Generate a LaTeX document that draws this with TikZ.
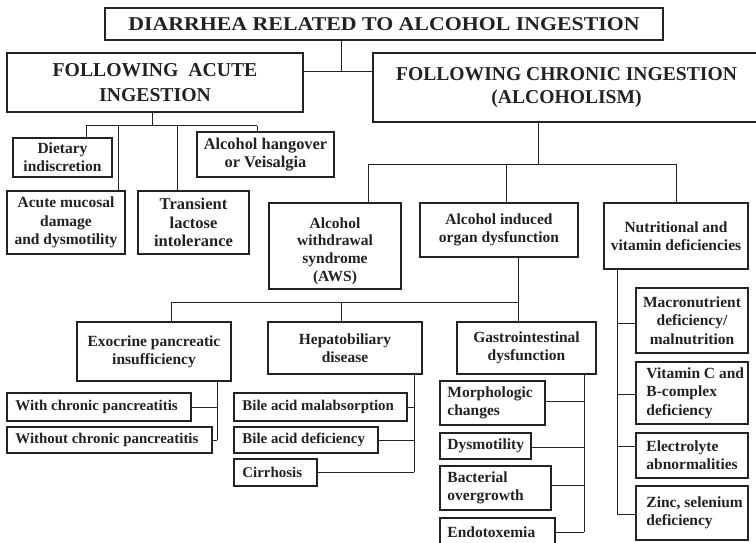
\documentclass[tikz,border=0pt]{standalone}
\usepackage{fontspec}
\setmainfont{Liberation Serif}
\newfontfamily\widefont{Liberation Serif}[FakeStretch=1.12]
\definecolor{ink}{HTML}{222222}

% centred box: [style], name, x1, y1, x2, y2, text
\newcommand\bx[7][]{%
  \pgfmathsetmacro\boxW{#5-#3}\pgfmathsetmacro\boxH{#6-#4}%
  \pgfmathsetmacro\boxX{(#3+#5)/2}\pgfmathsetmacro\boxY{(#4+#6)/2}%
  \node[box,align=center,minimum width=\boxW pt,minimum height=\boxH pt,#1] (#2) at (\boxX,\boxY) {#7};}
% left-aligned box: [style], name, x1, y1, x2, y2, text (text starts \lpad in)
\newcommand\lbx[7][]{%
  \pgfmathsetmacro\boxW{#5-#3}\pgfmathsetmacro\boxH{#6-#4}%
  \pgfmathsetmacro\boxX{(#3+#5)/2}\pgfmathsetmacro\boxY{(#4+#6)/2}%
  \node[box,minimum width=\boxW pt,minimum height=\boxH pt] (#2) at (\boxX,\boxY) {};
  \node[boxtext,anchor=west,align=left,#1] (#2-t) at ([xshift=\lpad]#2.west) {#7};}
\newcommand\lpad{9pt}

\begin{document}
\begin{tikzpicture}[x=1pt,y=-1pt,
  boxfont/.style={font=\fontsize{15.5}{18.3}\selectfont\bfseries},
  box/.style={draw=ink,line width=1.5pt,fill=white,inner sep=0pt,text=ink,boxfont},
  boxtext/.style={inner sep=0pt,text=ink,boxfont},
  conn/.style={draw=ink,line width=1pt}]
\useasboundingbox (0,0) rectangle (756,543);
\fill[white] (0,0) rectangle (756,543);
\clip (0,0) rectangle (756,543);

% ---- boxes ----
\bx[line width=1.7pt,font=\widefont\fontsize{19.5}{24}\selectfont\bfseries]{title}{105}{8}{663}{40}{DIARRHEA RELATED TO ALCOHOL INGESTION}
\bx[line width=1.7pt,font=\fontsize{19.7}{25}\selectfont\bfseries]{acute}{7}{53}{303}{112}{FOLLOWING\ \ ACUTE\\INGESTION}
\bx[line width=1.7pt,font=\fontsize{19.6}{23.5}\selectfont\bfseries]{chronic}{373}{53}{760}{122}{FOLLOWING CHRONIC INGESTION\\(ALCOHOLISM)}

\bx{dietary}{13}{138}{112}{177}{Dietary\\indiscretion}
\bx[font=\fontsize{16.4}{18.5}\selectfont\bfseries]{hangover}{197}{132}{334}{177}{Alcohol hangover\\or Veisalgia}
\bx{mucosal}{7}{191}{125}{254}{Acute mucosal\\damage\\and dysmotility}
\bx[font=\fontsize{16.5}{18.3}\selectfont\bfseries]{lactose}{138}{191}{249}{254}{Transient\\lactose\\intolerance}

% withdrawal syndrome: its text sits a little low in the box
\bx{aws}{269}{203}{401}{289}{}
\node[boxtext,align=center,font=\fontsize{15.5}{17.8}\selectfont\bfseries] (aws-t) at ([yshift=-5pt]aws.center) {Alcohol\\withdrawal\\syndrome\\(AWS)};
\bx{organ}{420}{203}{578}{257}{Alcohol induced\\organ dysfunction}
\bx{nutri}{604}{203}{748}{269}{Nutritional and\\vitamin deficiencies}

\bx{exo}{77}{322}{231}{381}{Exocrine pancreatic\\insufficiency}
\bx{hepato}{268}{322}{422}{374}{Hepatobiliary\\disease}
\bx{gastro}{457}{322}{596}{374}{Gastrointestinal\\dysfunction}

\begin{scope}[boxfont/.style={font=\fontsize{14.9}{18}\selectfont\bfseries}]
\lbx{withcp}{7}{393}{191}{421}{With chronic pancreatitis}
\lbx{withoutcp}{7}{427}{212}{453}{Without chronic pancreatitis}
\lbx{bam}{234}{393}{407}{421}{Bile acid malabsorption}
\lbx{bad}{234}{427}{378}{453}{Bile acid deficiency}
\lbx{cirr}{234}{459}{317}{486}{Cirrhosis}
\end{scope}

\renewcommand\lpad{8pt}
\lbx{morph}{440}{381}{545}{425}{Morphologic\\changes}
\lbx{dysm}{440}{433}{531}{459}{Dysmotility}
\lbx{bact}{440}{466}{551}{510}{Bacterial\\overgrowth}
\lbx{endo}{440}{518}{555}{546}{Endotoxemia}

\renewcommand\lpad{11pt}
\bx{macro}{636}{288}{748}{353}{Macronutrient\\deficiency/\\malnutrition}
\lbx{vitc}{636}{362}{748}{424}{Vitamin C and\\B-complex\\deficiency}
\lbx{elec}{636}{433}{748}{478}{Electrolyte\\abnormalities}
\lbx{zinc}{636}{486}{748}{540}{Zinc, selenium\\deficiency}

% ---- connectors ----
% top level
\coordinate (t0) at (341,72);
\draw[conn] (t0 |- title.south) -- (t0);
\draw[conn] (acute.east |- t0) -- (chronic.west |- t0);

% acute ingestion
\coordinate (a0) at (152,126);
\coordinate (a1) at (86,126);
\coordinate (a2) at (257,126);
\coordinate (a3) at (118,126);
\coordinate (a4) at (177,126);
\draw[conn] (a0 |- acute.south) -- (a0);
\draw[conn] (a1) -- (a2);
\draw[conn] (a1) -- (a1 |- dietary.north);
\draw[conn] (a2) -- (a2 |- hangover.north);
\draw[conn] (a3) -- (a3 |- mucosal.north);
\draw[conn] (a4) -- (a4 |- lactose.north);

% chronic ingestion
\coordinate (c0) at (538,164);
\coordinate (c1) at (368,164);
\coordinate (c2) at (676,164);
\coordinate (c3) at (506,164);
\draw[conn] (c0 |- chronic.south) -- (c0);
\draw[conn] (c1) -- (c2);
\draw[conn] (c1) -- (c1 |- aws.north);
\draw[conn] (c3) -- (c3 |- organ.north);
\draw[conn] (c2) -- (c2 |- nutri.north);

% organ dysfunction
\coordinate (o0) at (518,302);
\coordinate (o1) at (171,302);
\coordinate (o2) at (341,302);
\draw[conn] (o0 |- organ.south) -- (o0 |- gastro.north);
\draw[conn] (o1) -- (o0);
\draw[conn] (o1) -- (o1 |- exo.north);
\draw[conn] (o2) -- (o2 |- hepato.north);

% pancreatic insufficiency
\coordinate (e0) at (217,440);
\draw[conn] (e0 |- exo.south) -- (e0);
\draw[conn] (withcp.east) -- (withcp.east -| e0);
\draw[conn] (withoutcp.east) -- (withoutcp.east -| e0);

% hepatobiliary disease
\coordinate (h0) at (414,472);
\draw[conn] (h0 |- hepato.south) -- (h0);
\draw[conn] (bam.east) -- (bam.east -| h0);
\draw[conn] (bad.east) -- (bad.east -| h0);
\draw[conn] (cirr.east) -- (cirr.east -| h0);

% gastrointestinal dysfunction
\coordinate (g0) at (584,532);
\coordinate (g1) at (584,401);
\coordinate (g2) at (584,447);
\coordinate (g3) at (584,485);
\draw[conn] (g0 |- gastro.south) -- (g0);
\draw[conn] (g1) -- (g1 -| morph.east);
\draw[conn] (g2) -- (g2 -| dysm.east);
\draw[conn] (g3) -- (g3 -| bact.east);
\draw[conn] (g0) -- (g0 -| endo.east);

% nutritional deficiencies
\coordinate (n0) at (617,514);
\coordinate (n1) at (617,323);
\coordinate (n2) at (617,394);
\coordinate (n3) at (617,446);
\draw[conn] (n0 |- nutri.south) -- (n0);
\draw[conn] (n1) -- (n1 -| macro.west);
\draw[conn] (n2) -- (n2 -| vitc.west);
\draw[conn] (n3) -- (n3 -| elec.west);
\draw[conn] (n0) -- (n0 -| zinc.west);
\end{tikzpicture}
\end{document}
